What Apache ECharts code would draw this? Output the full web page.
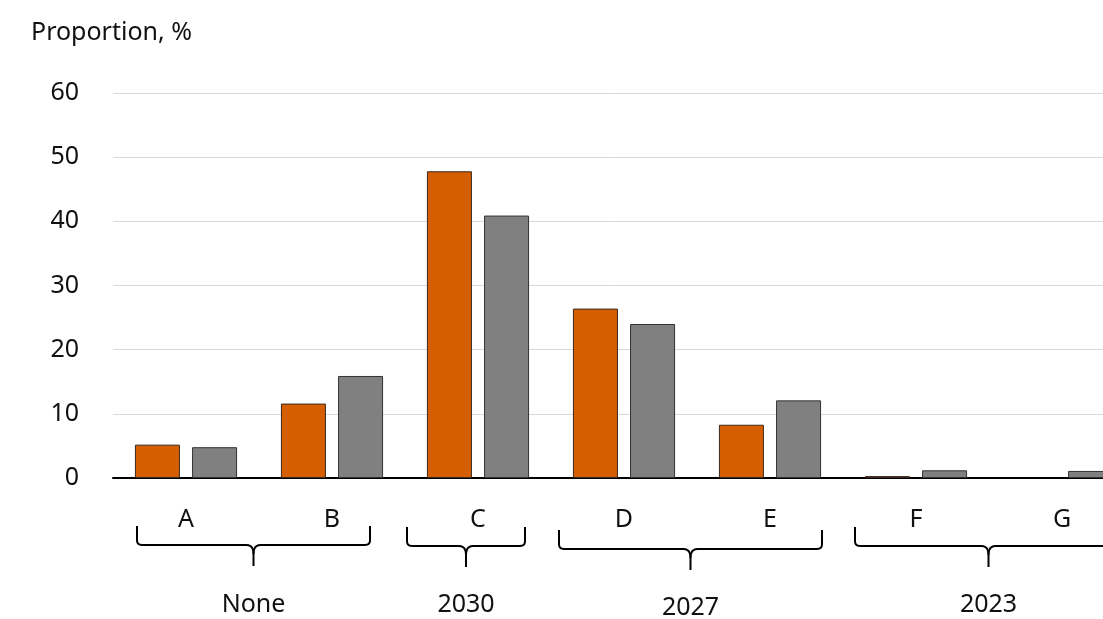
<!DOCTYPE html>
<html><head><meta charset="utf-8">
<script src="https://cdn.jsdelivr.net/npm/echarts@6/dist/echarts.min.js"></script>
<style>html,body{margin:0;padding:0;background:#fff}#c{width:1103px;height:619px}</style>
</head><body><div id="c"></div>
<script>
const categories = ['A','B','C','D','E','F','G'];
const seriesOrange = [5.2, 11.6, 47.8, 26.4, 8.3, 0.3, 0];
const seriesGray = [4.8, 15.9, 40.9, 24.0, 12.1, 1.2, 1.1];
const yTicks = [0, 10, 20, 30, 40, 50, 60];
const groupLabels = ['None', '2030', '2027', '2023'];
const groupFirst = ['A', 'C', 'D', 'F'];
const groupLast = ['B', 'C', 'E', 'G'];

const FONT = '"Noto Sans", sans-serif';
const FS = 25;
const noBorderAtZero = v => (v === 0 ? {value: v, itemStyle: {borderWidth: 0}} : v);
const chart = echarts.init(document.getElementById('c'), null, {renderer: 'canvas'});
const option = {
  animation: false,
  title: {text: 'Proportion, %', left: 26, top: 15,
    textStyle: {fontFamily: FONT, fontSize: FS, fontWeight: 'normal', color: '#111'}},
  grid: {left: 113, top: 93, bottom: 141, width: 1022, outerBoundsMode: 'none', containLabel: false},
  xAxis: {type: 'category', data: categories,
    axisLine: {show: true, lineStyle: {color: '#000', width: 2}},
    axisTick: {show: false},
    axisLabel: {fontFamily: FONT, fontSize: FS, color: '#111', margin: 29}},
  yAxis: {type: 'value', min: yTicks[0], max: yTicks[yTicks.length - 1], interval: 10,
    axisLine: {show: false}, axisTick: {show: false},
    axisLabel: {fontFamily: FONT, fontSize: FS, color: '#111', margin: 34}},
  series: [
    {type: 'bar', data: seriesOrange.map(noBorderAtZero), barWidth: 45, barGap: '27%',
      itemStyle: {color: '#d45e00', borderColor: '#3a2a20', borderWidth: 1}},
    {type: 'bar', data: seriesGray.map(noBorderAtZero), barWidth: 45, barGap: '27%',
      itemStyle: {color: '#808080', borderColor: '#333', borderWidth: 1}}
  ]
};
option.yAxis.splitLine = {lineStyle: {color: '#d9d9d9', width: 1}};
chart.setOption(option);

function quad(p0, p1, p2, n) {
  const pts = [];
  for (let k = 1; k <= n; k++) {
    const t = k / n, u = 1 - t;
    pts.push([u*u*p0[0] + 2*u*t*p1[0] + t*t*p2[0], u*u*p0[1] + 2*u*t*p1[1] + t*t*p2[1]]);
  }
  return pts;
}

// brace extents relative to category centers (px), and vertical placement
const braceOffsets = [[-49, 38], [-71, 47], [-65, 52], [-61, 60]];
const braceDy = [0, 1, 4, 1];
const labelY = [605, 605, 608, 605];
const graphics = [];
const r = 5;
groupLabels.forEach((lab, i) => {
  const yTop = 526 + braceDy[i], yH = 545 + braceDy[i], yTip = 566 + braceDy[i];
  const c0 = chart.convertToPixel({xAxisIndex: 0}, groupFirst[i]);
  const c1 = chart.convertToPixel({xAxisIndex: 0}, groupLast[i]);
  const x0 = c0 + braceOffsets[i][0];
  const x1 = c1 + braceOffsets[i][1];
  const mid = (x0 + x1) / 2;
  let left = [[x0, yTop], [x0, yH - r]];
  left = left.concat(quad([x0, yH - r], [x0, yH], [x0 + r, yH], 6));
  left.push([mid - 7, yH]);
  left = left.concat(quad([mid - 7, yH], [mid, yH], [mid, yH + 9], 6));
  left.push([mid, yTip]);
  let right = [[x1, yTop], [x1, yH - r]];
  right = right.concat(quad([x1, yH - r], [x1, yH], [x1 - r, yH], 6));
  right.push([mid + 7, yH]);
  right = right.concat(quad([mid + 7, yH], [mid, yH], [mid, yH + 9], 6));
  graphics.push({type: 'polyline', shape: {points: left}, style: {fill: null, stroke: '#000', lineWidth: 2}});
  graphics.push({type: 'polyline', shape: {points: right}, style: {fill: null, stroke: '#000', lineWidth: 2}});
  graphics.push({type: 'text', x: mid, y: labelY[i],
    style: {text: lab, font: FS + 'px ' + FONT, fill: '#111', textAlign: 'center', textVerticalAlign: 'middle'}});
});
chart.setOption({graphic: graphics});
</script></body></html>
